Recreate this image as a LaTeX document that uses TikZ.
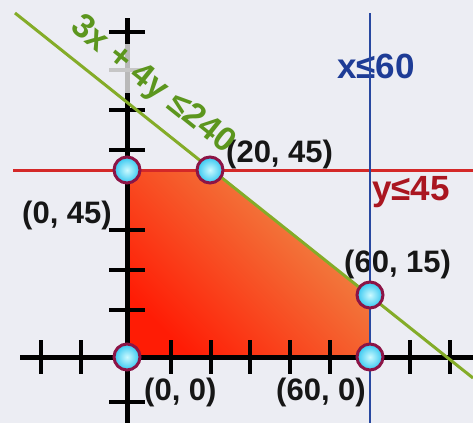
\documentclass[tikz,border=0pt]{standalone}
\usepackage{fontspec}
\setmainfont{Liberation Sans}
\definecolor{bgc}{RGB}{236,237,243}
\definecolor{regtop}{RGB}{238,145,75}
\definecolor{regbot}{RGB}{255,28,5}
\definecolor{redline}{RGB}{212,40,40}
\definecolor{redlbl}{RGB}{170,22,32}
\definecolor{blueline}{RGB}{40,72,160}
\definecolor{bluelbl}{RGB}{30,60,150}
\definecolor{greenline}{RGB}{132,172,40}
\definecolor{greenlbl}{RGB}{92,150,30}
\definecolor{lblk}{RGB}{22,22,22}
\definecolor{ptborder}{RGB}{140,20,70}
\definecolor{ptin}{RGB}{205,250,255}
\definecolor{ptout}{RGB}{50,198,240}
\newcommand\coordfont{\fontsize{31}{36}\selectfont\bfseries}
\newcommand\ineqfont{\fontsize{35}{40}\selectfont\bfseries}
\begin{document}
\begin{tikzpicture}[x=1pt,y=-1pt,
  axisline/.style={line width=5pt,black},
  tickline/.style={line width=4pt,black},
  vertex/.style={circle,draw=ptborder,line width=3pt,minimum size=26pt,inner sep=0pt,inner color=ptin,outer color=ptout},
  coordlbl/.style={anchor=base west,inner sep=0pt,text=lblk,font=\coordfont},
  ineqlbl/.style={anchor=base west,inner sep=0pt,font=\ineqfont}]
\fill[bgc] (0,0) rectangle (473,423);
\useasboundingbox (0,0) rectangle (473,423);
% feasible region
\shade[top color=regtop,bottom color=regbot,shading angle=-45]
  (127,170) -- (210,170) -- (370,295) -- (370,357) -- (127,357) -- cycle;
% axes
\draw[axisline] (20,357) -- (473,357);
\draw[axisline] (127,18) -- (127,423);
\foreach \x in {41,81,171,211,250,290,330,410,450}
  \draw[tickline] (\x,340) -- (\x,374);
\foreach \y in {32,110,150,230,270,310,402}
  \draw[tickline] (109,\y) -- (145,\y);
\draw[line width=5pt,gray!55] (127,44) -- (127,93);
\draw[tickline,gray!45] (109,70) -- (145,70);
% constraint lines
\draw[redline,line width=3pt] (13,170) -- (473,170);
\draw[greenline,line width=3pt] (15,13) -- (473,378);
% labels
\node[coordlbl] (l2045) at (226,162) {(20, 45)};
\node[coordlbl] (l045) at (22,223) {(0, 45)};
\node[coordlbl] (l00) at (144,400) {(0, 0)};
\node[coordlbl] (l600) at (276,400) {(60, 0)};
\node[coordlbl] (l6015) at (344,272) {(60, 15)};
\node[ineqlbl,text=bluelbl] (lx) at (337,78) {x≤60};
\node[ineqlbl,text=redlbl] (ly) at (372,200) {y≤45};
\node[anchor=base,inner sep=0pt,font=\fontsize{34}{40}\selectfont\bfseries,text=greenlbl,rotate=-38.6] (lg) at (147,92) {3x + 4y ≤240};
\draw[blueline,line width=2.5pt] (370,13) -- (370,423);
% vertices
\node[vertex] (p1) at (127,170) {};
\node[vertex] (p2) at (210,170) {};
\node[vertex] (p3) at (370,295) {};
\node[vertex] (p4) at (370,357) {};
\node[vertex] (p5) at (127,357) {};
\end{tikzpicture}
\end{document}
